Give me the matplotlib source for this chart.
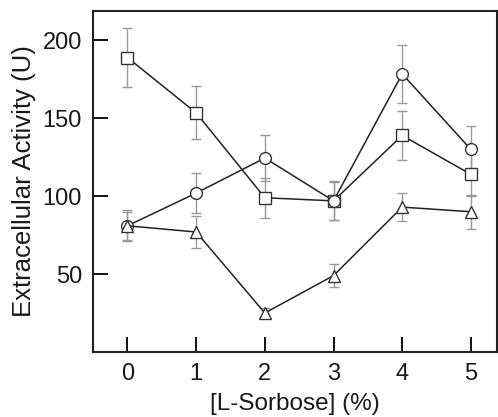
import numpy as np
import matplotlib.pyplot as plt

plt.rcParams['font.family'] = ['Liberation Sans', 'DejaVu Sans']

# L-sorbose concentration (%)
x = [0, 1, 2, 3, 4, 5]

# extracellular activity (U) and error for each series
sq_y = [189, 153.5, 99, 97, 139, 114]
sq_err = [19, 17, 13, 12.5, 15.5, 14]
ci_y = [81, 102, 124.5, 97, 178.5, 130]
ci_err = [10, 13, 14.5, 12, 18.5, 15]
tr_y = [81, 77, 25, 49, 93, 90]
tr_err = [9, 10, 3, 7.5, 9, 11]

fig = plt.figure(figsize=(4.98, 4.17), dpi=100)
ax = fig.add_axes([0.187, 0.156, 0.811, 0.818])

series = [(sq_y, sq_err, 's', 8), (ci_y, ci_err, 'o', 8.5), (tr_y, tr_err, '^', 9)]
for y, err, mk, ms in series:
    ax.errorbar(x, y, yerr=err, fmt='none', ecolor='#9a9a9a', elinewidth=1,
                capsize=3.5, capthick=1, zorder=1)
    ax.plot(x, y, color='#222222', lw=1.1, marker=mk, ms=ms,
            mfc='white', mec='#333333', mew=1, zorder=2)

ax.set_xlim(-0.5, 5.38)
ax.set_ylim(0, 219)
ax.set_xticks(x)
ax.set_yticks([50, 100, 150, 200])
ax.tick_params(direction='in', length=11, width=1.3, labelsize=17, pad=8,
               labelcolor='#1a1a1a')
for s in ax.spines.values():
    s.set_linewidth(1.5)
    s.set_color('#222222')

ax.set_xlabel('[L-Sorbose] (%)', fontsize=17.5, labelpad=6, color='#1a1a1a')
ax.set_ylabel('Extracellular Activity (U)', fontsize=18.5, labelpad=5, color='#1a1a1a')

fig.savefig('out.png', dpi=100)
